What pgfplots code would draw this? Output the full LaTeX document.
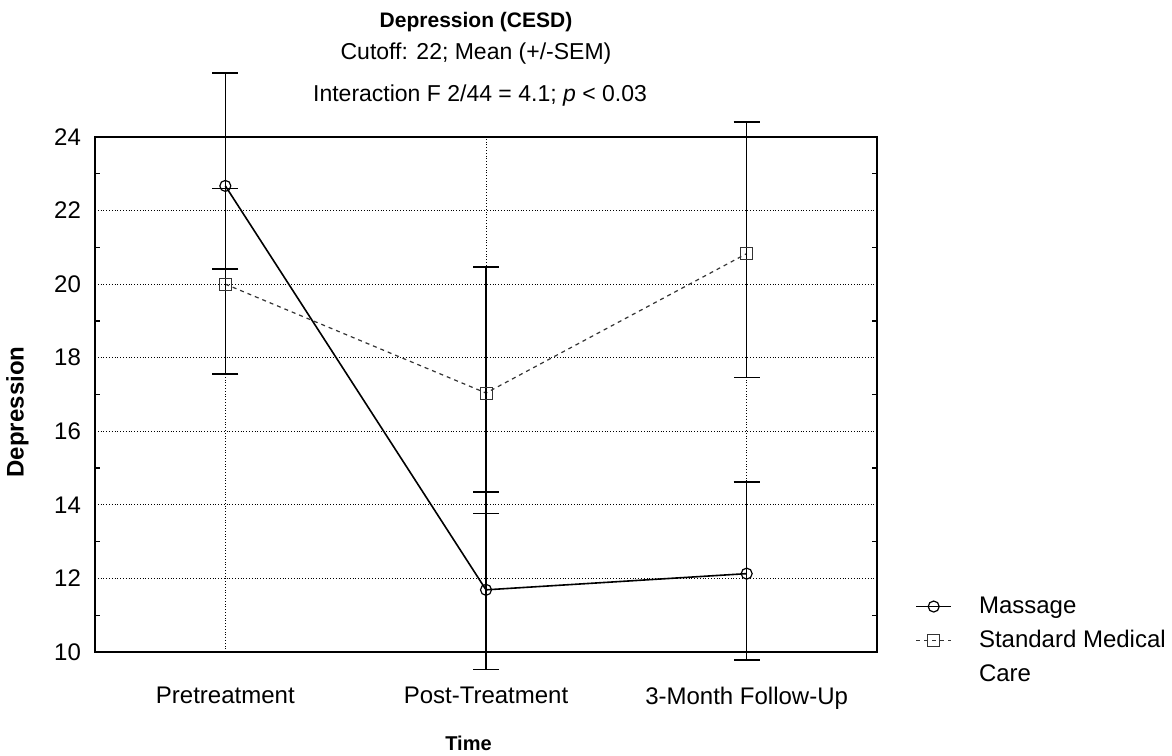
\documentclass[border=0pt]{standalone}
\usepackage{fontspec}
\setmainfont{Liberation Sans}
\usepackage{pgfplots}
\pgfplotsset{compat=1.18}
\usepackage{pgfplotstable}

\pgfplotstableread{
x y ep em
0 22.67 3.07 2.26
1 11.69 2.66 2.17
2 12.13 2.49 2.34
}\massage
\pgfplotstableread{
x y ep em
0 20.00 2.60 2.45
1 17.04 3.43 3.28
2 20.83 3.58 3.37
}\smc

\begin{document}
\begin{tikzpicture}
\useasboundingbox (0,0) rectangle (586pt,377.5pt);
\begin{axis}[
  at={(47.5pt,51.5pt)}, anchor=south west,
  scale only axis, width=391pt, height=257.5pt,
  clip=false,
  xmin=-0.5, xmax=2.5, ymin=10, ymax=24,
  xtick={0,1,2},
  xticklabels={Pretreatment,Post-Treatment,3-Month Follow-Up},
  ytick={10,12,...,24}, minor ytick={11,13,...,23},
  grid=major,
  major grid style={black, densely dotted, line width=0.5pt},
  axis line style={black, line width=0.9pt},
  major tick length=0pt, minor tick length=2.5pt,
  tick style={black, line width=0.6pt},
  tick label style={font=\fontsize{12}{14}\selectfont},
  /pgf/number format/assume math mode=true,
  xticklabel style={yshift=-14pt},
  yticklabel style={xshift=-3.5pt},
  legend style={at={(rel axis cs:1,0.108)}, anchor=north west, xshift=19pt,
    draw=none, fill=none, inner sep=0pt,
    font=\fontsize{12}{14}\selectfont,
    nodes={inner sep=0pt},
    row sep=7pt,
    /tikz/every odd column/.append style={column sep=13.5pt}},
  legend cell align=left,
  legend image code/.code={\draw[mark repeat=2, mark phase=2, #1] plot coordinates {(0pt,0pt) (8.75pt,0pt) (17.5pt,0pt)};},
]
\addplot[black, line width=0.8pt, mark=o, mark size=2.75pt,
  mark options={solid, line width=0.6pt},
  error bars/.cd, y dir=both, y explicit,
  error bar style={line width=0.8pt, black},
  error mark options={rotate=90, mark size=6.5pt, line width=0.8pt, black}]
  table[x=x, y=y, y error plus=ep, y error minus=em] {\massage};
\addlegendentry{Massage}
\addplot[black!80, line width=0.6pt, dash pattern=on 2pt off 2pt, mark=square, mark size=3pt,
  mark options={solid, line width=0.5pt, black!80},
  error bars/.cd, y dir=both, y explicit,
  error bar style={line width=0.8pt, black, solid},
  error mark options={rotate=90, mark size=6.5pt, line width=0.8pt, black, solid}]
  table[x=x, y=y, y error plus=ep, y error minus=em] {\smc};
\addlegendentry{Standard Medical}
\addlegendimage{empty legend}
\addlegendentry{Care}
\end{axis}
\node[anchor=base, font=\bfseries\fontsize{10.5}{12}\selectfont] at (238pt,363.5pt) {Depression (CESD)};
\node[anchor=base, font=\fontsize{11.5}{13}\selectfont] at (238pt,347.8pt) {Cutoff: 22; Mean (+/-SEM)};
\node[anchor=base, font=\fontsize{11.5}{13}\selectfont] at (240pt,326.8pt) {Interaction F 2/44 = 4.1; \textit{p} < 0.03};
\node[rotate=90, font=\bfseries\fontsize{12}{14}\selectfont] at (8.75pt,171.5pt) {Depression};
\node[anchor=base, font=\bfseries\fontsize{10}{12}\selectfont] at (234.25pt,2.5pt) {Time};
\end{tikzpicture}
\end{document}
